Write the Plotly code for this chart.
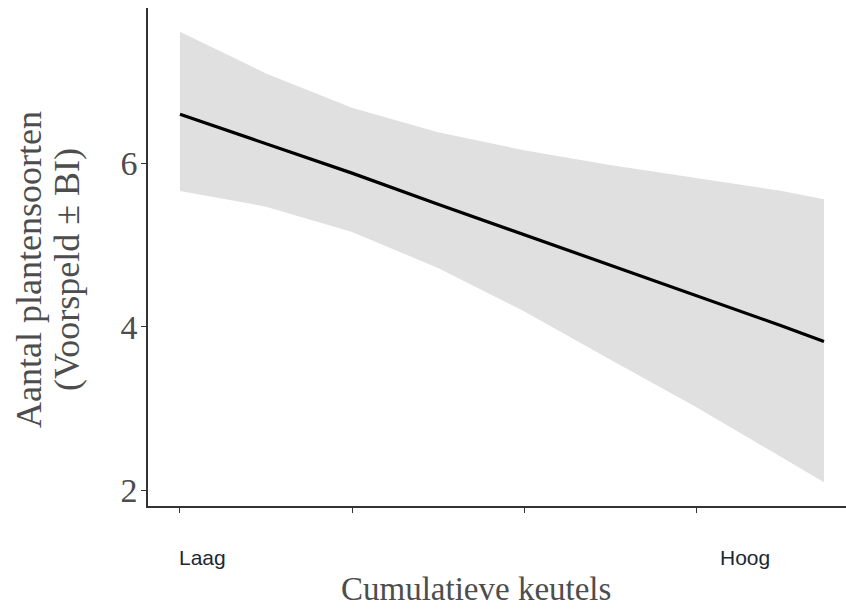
import plotly.graph_objects as go

# Data (x: position on the cumulative-droppings scale, 0 = "Laag", 3 = "Hoog")
x_vals = [0, 0.5, 1, 1.5, 2, 2.5, 3, 3.5, 3.744]
pred = [6.60, 6.24, 5.88, 5.50, 5.13, 4.75, 4.38, 4.01, 3.82]
upper = [7.61, 7.10, 6.68, 6.38, 6.16, 5.98, 5.82, 5.66, 5.56]
lower = [5.66, 5.47, 5.16, 4.72, 4.19, 3.60, 3.02, 2.40, 2.10]

x_ticks = [0, 1, 2, 3]
x_tick_labels = ["Laag", "", "", "Hoog"]
y_ticks = [2, 4, 6]
y_title_lines = ["Aantal plantensoorten", "(Voorspeld ± BI)"]
x_title = "Cumulatieve keutels"

fig = go.Figure()
fig.add_trace(go.Scatter(x=x_vals + x_vals[::-1], y=upper + lower[::-1],
                         fill="toself", fillcolor="#e0e0e0", line=dict(width=0),
                         mode="lines", hoverinfo="skip", showlegend=False))
fig.add_trace(go.Scatter(x=x_vals, y=pred, mode="lines",
                         line=dict(color="black", width=3.2), showlegend=False))

serif = "Liberation Serif, Times New Roman, serif"
gray = "#4d4d4d"

plot_top, plot_bottom = 8, 506
plot_left, plot_right = 148, 846


def ypaper(py):
    return (plot_bottom - py) / (plot_bottom - plot_top)


def xpaper(px):
    return (px - plot_left) / (plot_right - plot_left)


fig.update_layout(
    width=846, height=610,
    margin=dict(l=plot_left, r=846 - plot_right, t=plot_top, b=610 - plot_bottom),
    plot_bgcolor="white", paper_bgcolor="white",
    xaxis=dict(range=[-0.186, 3.872], tickvals=x_ticks, ticktext=["" for _ in x_ticks],
               showline=True, linecolor="#333333", linewidth=1.5,
               ticks="outside", ticklen=5, tickcolor="#333333", tickwidth=1,
               showgrid=False, zeroline=False),
    yaxis=dict(range=[1.808, 7.90], tickvals=y_ticks,
               showline=True, linecolor="#333333", linewidth=1.5,
               ticks="outside", ticklen=5, tickcolor="#333333", tickwidth=1,
               tickfont=dict(family=serif, size=34, color=gray),
               ticklabelstandoff=-3,
               showgrid=False, zeroline=False),
)

# Low / high labels below the axis
label_font = dict(family="Liberation Sans, Arial, sans-serif", size=21, color="#1c2833")
for xv, lab in zip(x_ticks, x_tick_labels):
    if lab:
        fig.add_annotation(x=xv, y=ypaper(557), xref="x", yref="paper", text=lab,
                           showarrow=False, font=label_font,
                           xanchor="left", yanchor="middle",
                           xshift=-3 if lab == "Laag" else 22)

fig.add_annotation(x=xpaper(476), y=ypaper(589), xref="paper", yref="paper",
                   text=x_title, showarrow=False,
                   font=dict(family=serif, size=33, color=gray),
                   xanchor="center", yanchor="middle")

for cx, line in zip([29, 67], y_title_lines):
    fig.add_annotation(x=xpaper(cx), y=ypaper(270), xref="paper", yref="paper",
                       text=line, showarrow=False, textangle=-90,
                       font=dict(family=serif, size=36, color=gray),
                       xanchor="center", yanchor="middle")

fig.write_html("out.html")
